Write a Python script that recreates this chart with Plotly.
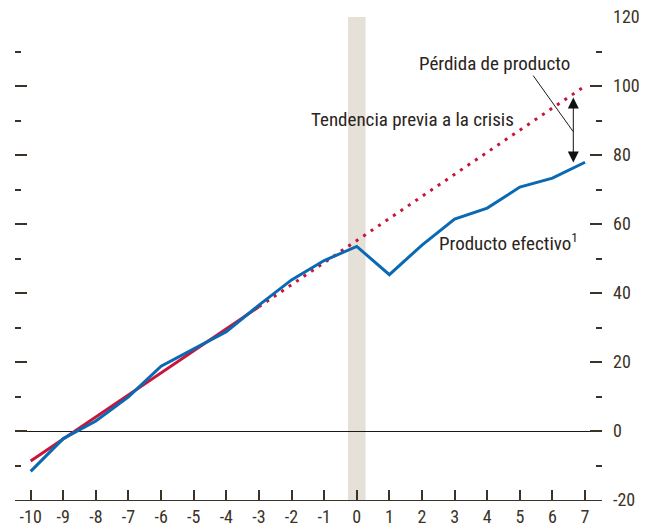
import plotly.graph_objects as go

# Data
years = [-10, -9, -8, -7, -6, -5, -4, -3, -2, -1, 0, 1, 2, 3, 4, 5, 6, 7]
actual_output = [-11.7, -2.2, 2.9, 9.9, 18.8, 23.7, 28.8, 36.5, 43.8, 49.4,
                 53.5, 45.3, 53.9, 61.4, 64.6, 70.7, 73.3, 77.9]
trend_fit_years = [-10, -3]
trend_fit_values = [-8.7, 36.0]
trend_proj_years = [-3, 7]
trend_proj_values = [36.0, 100.0]
crisis_band = [-0.27, 0.27]
x_ticks = list(range(-10, 8))
x_tick_labels = ["-10", "-9", "-8", "-7", "-6", "-5", "-4", "-3", "-2", "-1",
                 "0", "1", "2", "3", "4", "5", "6", "7"]
y_ticks = [-20, 0, 20, 40, 60, 80, 100, 120]
y_tick_labels = ["-20", "0", "20", "40", "60", "80", "100", "120"]

FONT = "Liberation Sans Narrow, Arial Narrow, Roboto Condensed, sans-serif"
TXT = "#2a2420"
TICKC = "#3b3326"
BLUE = "#0a69b3"
RED = "#c8153a"
FS = 19
TFS = 18

fig = go.Figure()

fig.add_trace(go.Scatter(x=trend_fit_years, y=trend_fit_values, mode="lines",
                         line=dict(color=RED, width=3), hoverinfo="skip"))
fig.add_trace(go.Scatter(x=trend_proj_years, y=trend_proj_values, mode="lines",
                         line=dict(color=RED, width=3, dash="3px,6px"), hoverinfo="skip"))
fig.add_trace(go.Scatter(x=years, y=actual_output, mode="lines",
                         line=dict(color=BLUE, width=3), hoverinfo="skip"))

fig.add_shape(type="rect", xref="x", yref="paper", x0=crisis_band[0], x1=crisis_band[1],
              y0=0, y1=1, fillcolor="#e5e0d8", line=dict(width=0), layer="below")

# annotations
fig.add_annotation(x=4.21, y=106.5, text="Pérdida de producto", showarrow=False,
                   font=dict(family=FONT, size=FS, color=TXT))
fig.add_annotation(x=1.71, y=90.2, text="Tendencia previa a la crisis", showarrow=False,
                   font=dict(family=FONT, size=FS, color=TXT))
fig.add_annotation(x=4.65, y=54.5, text="Producto efectivo<sup>1</sup>", showarrow=False,
                   font=dict(family=FONT, size=FS, color=TXT))
# leader line
fig.add_shape(type="line", xref="x", yref="y", x0=5.41, y0=103.0, x1=6.635, y1=86.8,
              line=dict(color="#1a1a1a", width=1))
# double arrow
fig.add_annotation(x=6.64, y=96.7, ax=6.64, ay=77.4, xref="x", yref="y", axref="x", ayref="y",
                   text="", showarrow=True, arrowhead=2, startarrowhead=2,
                   arrowside="end+start", arrowsize=2.2, startarrowsize=2.2,
                   arrowwidth=1, arrowcolor="#111111")

fig.update_layout(
    width=647, height=527,
    margin=dict(l=7, r=53, t=9, b=35),
    paper_bgcolor="white", plot_bgcolor="white",
    showlegend=False,
    font=dict(family=FONT, size=TFS, color=TICKC),
    xaxis=dict(range=[-10.48, 7.52], tickvals=x_ticks, ticktext=x_tick_labels,
               ticks="inside", ticklen=10, ticklabeloverflow="allow",
               tickwidth=1.5, tickcolor=TICKC, showline=True, linecolor=TICKC, linewidth=1,
               showgrid=False, zeroline=False, automargin=False,
               tickfont=dict(family=FONT, size=TFS, color=TICKC)),
    yaxis=dict(range=[-20, 120], tickvals=y_ticks, ticktext=y_tick_labels,
               side="right", ticks="inside", ticklen=12, ticklabeloverflow="allow",
               ticklabelstandoff=10,
               tickwidth=1.5, tickcolor=TICKC, showline=False, mirror="ticks",
               showgrid=False, zeroline=True, zerolinecolor="#1a1a1a", zerolinewidth=1,
               automargin=False,
               minor=dict(tickvals=[-10, 10, 30, 50, 70, 90, 110], ticks="inside", ticklen=6,
                          tickwidth=1.5, tickcolor=TICKC, showgrid=False),
               tickfont=dict(family=FONT, size=TFS, color=TICKC)),
)

fig.write_html("out.html")
